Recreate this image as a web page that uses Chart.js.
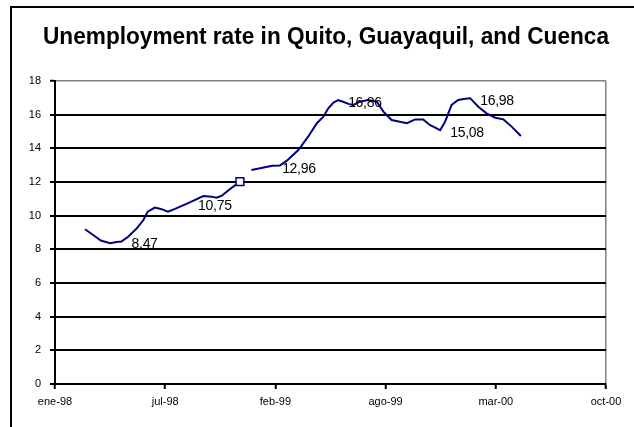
<!DOCTYPE html>
<html><head><meta charset="utf-8">
<script src="https://cdn.jsdelivr.net/npm/chart.js@4/dist/chart.umd.min.js"></script>
<style>html,body{margin:0;padding:0;background:#fff}#wrap{width:634px;height:427px}</style>
</head><body><div id="wrap"><canvas id="c" width="634" height="427"></canvas></div>
<script>
const titleText = 'Unemployment rate in Quito, Guayaquil, and Cuenca';
const tickLabels = ['ene-98', 'jul-98', 'feb-99', 'ago-99', 'mar-00', 'oct-00'];
const tickDays = [0, 202, 404, 606, 808, 1010];
// days since 1 Jan 1998
const days = [55, 70, 84, 101, 113, 122, 134, 150, 162, 170, 183, 194, 207, 220, 244, 272, 287, 296, 306, 321, 339,
  350,
  360, 385, 398, 412, 425, 446, 464, 480, 492, 501, 510, 519, 528, 538, 547, 559, 574, 590, 602, 617, 632, 645, 660, 675, 687, 706, 715, 727, 739, 752, 761, 776, 791, 807, 822, 837, 854];
const rates = [9.19, 8.85, 8.52, 8.36, 8.44, 8.47, 8.75, 9.25, 9.74, 10.24, 10.48, 10.40, 10.24, 10.40, 10.75, 11.17, 11.13, 11.07, 11.19, 11.58, 12.02,
  null,
  12.71, 12.87, 12.96, 12.98, 13.27, 13.90, 14.69, 15.49, 15.88, 16.38, 16.71, 16.86, 16.77, 16.64, 16.58, 16.77, 16.87, 16.77, 16.18, 15.68, 15.58, 15.49, 15.72, 15.72, 15.39, 15.08, 15.58, 16.58, 16.87, 16.95, 16.98, 16.47, 16.08, 15.82, 15.72, 15.29, 14.73];
const labelledDays = [122, 244, 398, 519, 706, 761];
const markerDays = [339];

const fmt = v => v.toFixed(2).replace('.', ',');
const FONT = '"Liberation Sans", Arial, sans-serif';

const decor = {
  id: 'decor',
  beforeDraw(chart) {
    const ctx = chart.ctx;
    ctx.save();
    ctx.fillStyle = '#fff';
    ctx.fillRect(0, 0, chart.width, chart.height);
    ctx.restore();
  },
  afterDraw(chart) {
    const ctx = chart.ctx;
    ctx.save();
    ctx.strokeStyle = '#000';
    ctx.lineWidth = 2;
    ctx.strokeRect(11, 7, 700, 500);
    ctx.font = 'bold 24px ' + FONT;
    ctx.fillStyle = '#000';
    ctx.textBaseline = 'alphabetic';
    const w = ctx.measureText(titleText).width;
    const target = 566;
    const s = Math.min(1, target / w);
    ctx.translate(326, 44);
    ctx.scale(s, 1);
    ctx.textAlign = 'center';
    ctx.fillText(titleText, 0, 0);
    ctx.restore();
  },
  afterDatasetsDraw(chart) {
    const ctx = chart.ctx;
    const meta = chart.getDatasetMeta(0);
    ctx.save();
    ctx.font = '14px ' + FONT;
    ctx.letterSpacing = '-0.3px';
    ctx.fillStyle = '#000';
    ctx.textAlign = 'left';
    ctx.textBaseline = 'middle';
    days.forEach((d, i) => {
      if (labelledDays.includes(d) && rates[i] != null) {
        const p = meta.data[i];
        ctx.fillText(fmt(rates[i]), p.x + 10, p.y + 3);
      }
    });
    ctx.restore();
  }
};

new Chart(document.getElementById('c'), {
  type: 'line',
  data: {
    datasets: [{
      data: days.map((d, i) => ({ x: d, y: rates[i] })),
      borderColor: '#000080',
      borderWidth: 2,
      tension: 0,
      spanGaps: false,
      pointStyle: 'rect',
      pointRadius: ctx => (ctx.raw && markerDays.includes(ctx.raw.x)) ? 5.5 : 0,
      pointBorderColor: '#000080',
      pointBackgroundColor: '#fff',
      pointBorderWidth: 1.5
    }]
  },
  options: {
    responsive: false,
    devicePixelRatio: 1,
    animation: false,
    layout: { padding: { top: 81, right: 28, left: 0, bottom: 0 } },
    plugins: { legend: { display: false }, title: { display: false }, tooltip: { enabled: false } },
    scales: {
      x: {
        type: 'linear',
        min: 0, max: 1010,
        afterBuildTicks: scale => { scale.ticks = tickDays.map(v => ({ value: v })); },
        afterFit: scale => { scale.height = 43; },
        ticks: {
          autoSkip: false, maxRotation: 0, padding: 6,
          color: '#000', font: { family: FONT, size: 11 },
          callback: (v, i) => tickLabels[i]
        },
        grid: {
          color: ctx => ctx.index === tickDays.length - 1 ? '#808080' : 'rgba(0,0,0,0)',
          lineWidth: 1.5,
          tickColor: '#000', tickLength: 5, tickWidth: 2
        },
        border: { color: '#000', width: 2 }
      },
      y: {
        min: 0, max: 18,
        afterFit: scale => { scale.width = 55; },
        ticks: { stepSize: 2, padding: 9, color: '#000', font: { family: FONT, size: 11 } },
        grid: {
          color: ctx => (ctx.tick && ctx.tick.value === 18) ? '#808080' : '#000',
          lineWidth: ctx => (ctx.tick && ctx.tick.value === 18) ? 1.5 : 2,
          tickColor: '#000', tickLength: 5, tickWidth: 2
        },
        border: { color: '#000', width: 2 }
      }
    }
  },
  plugins: [decor]
});
</script></body></html>
